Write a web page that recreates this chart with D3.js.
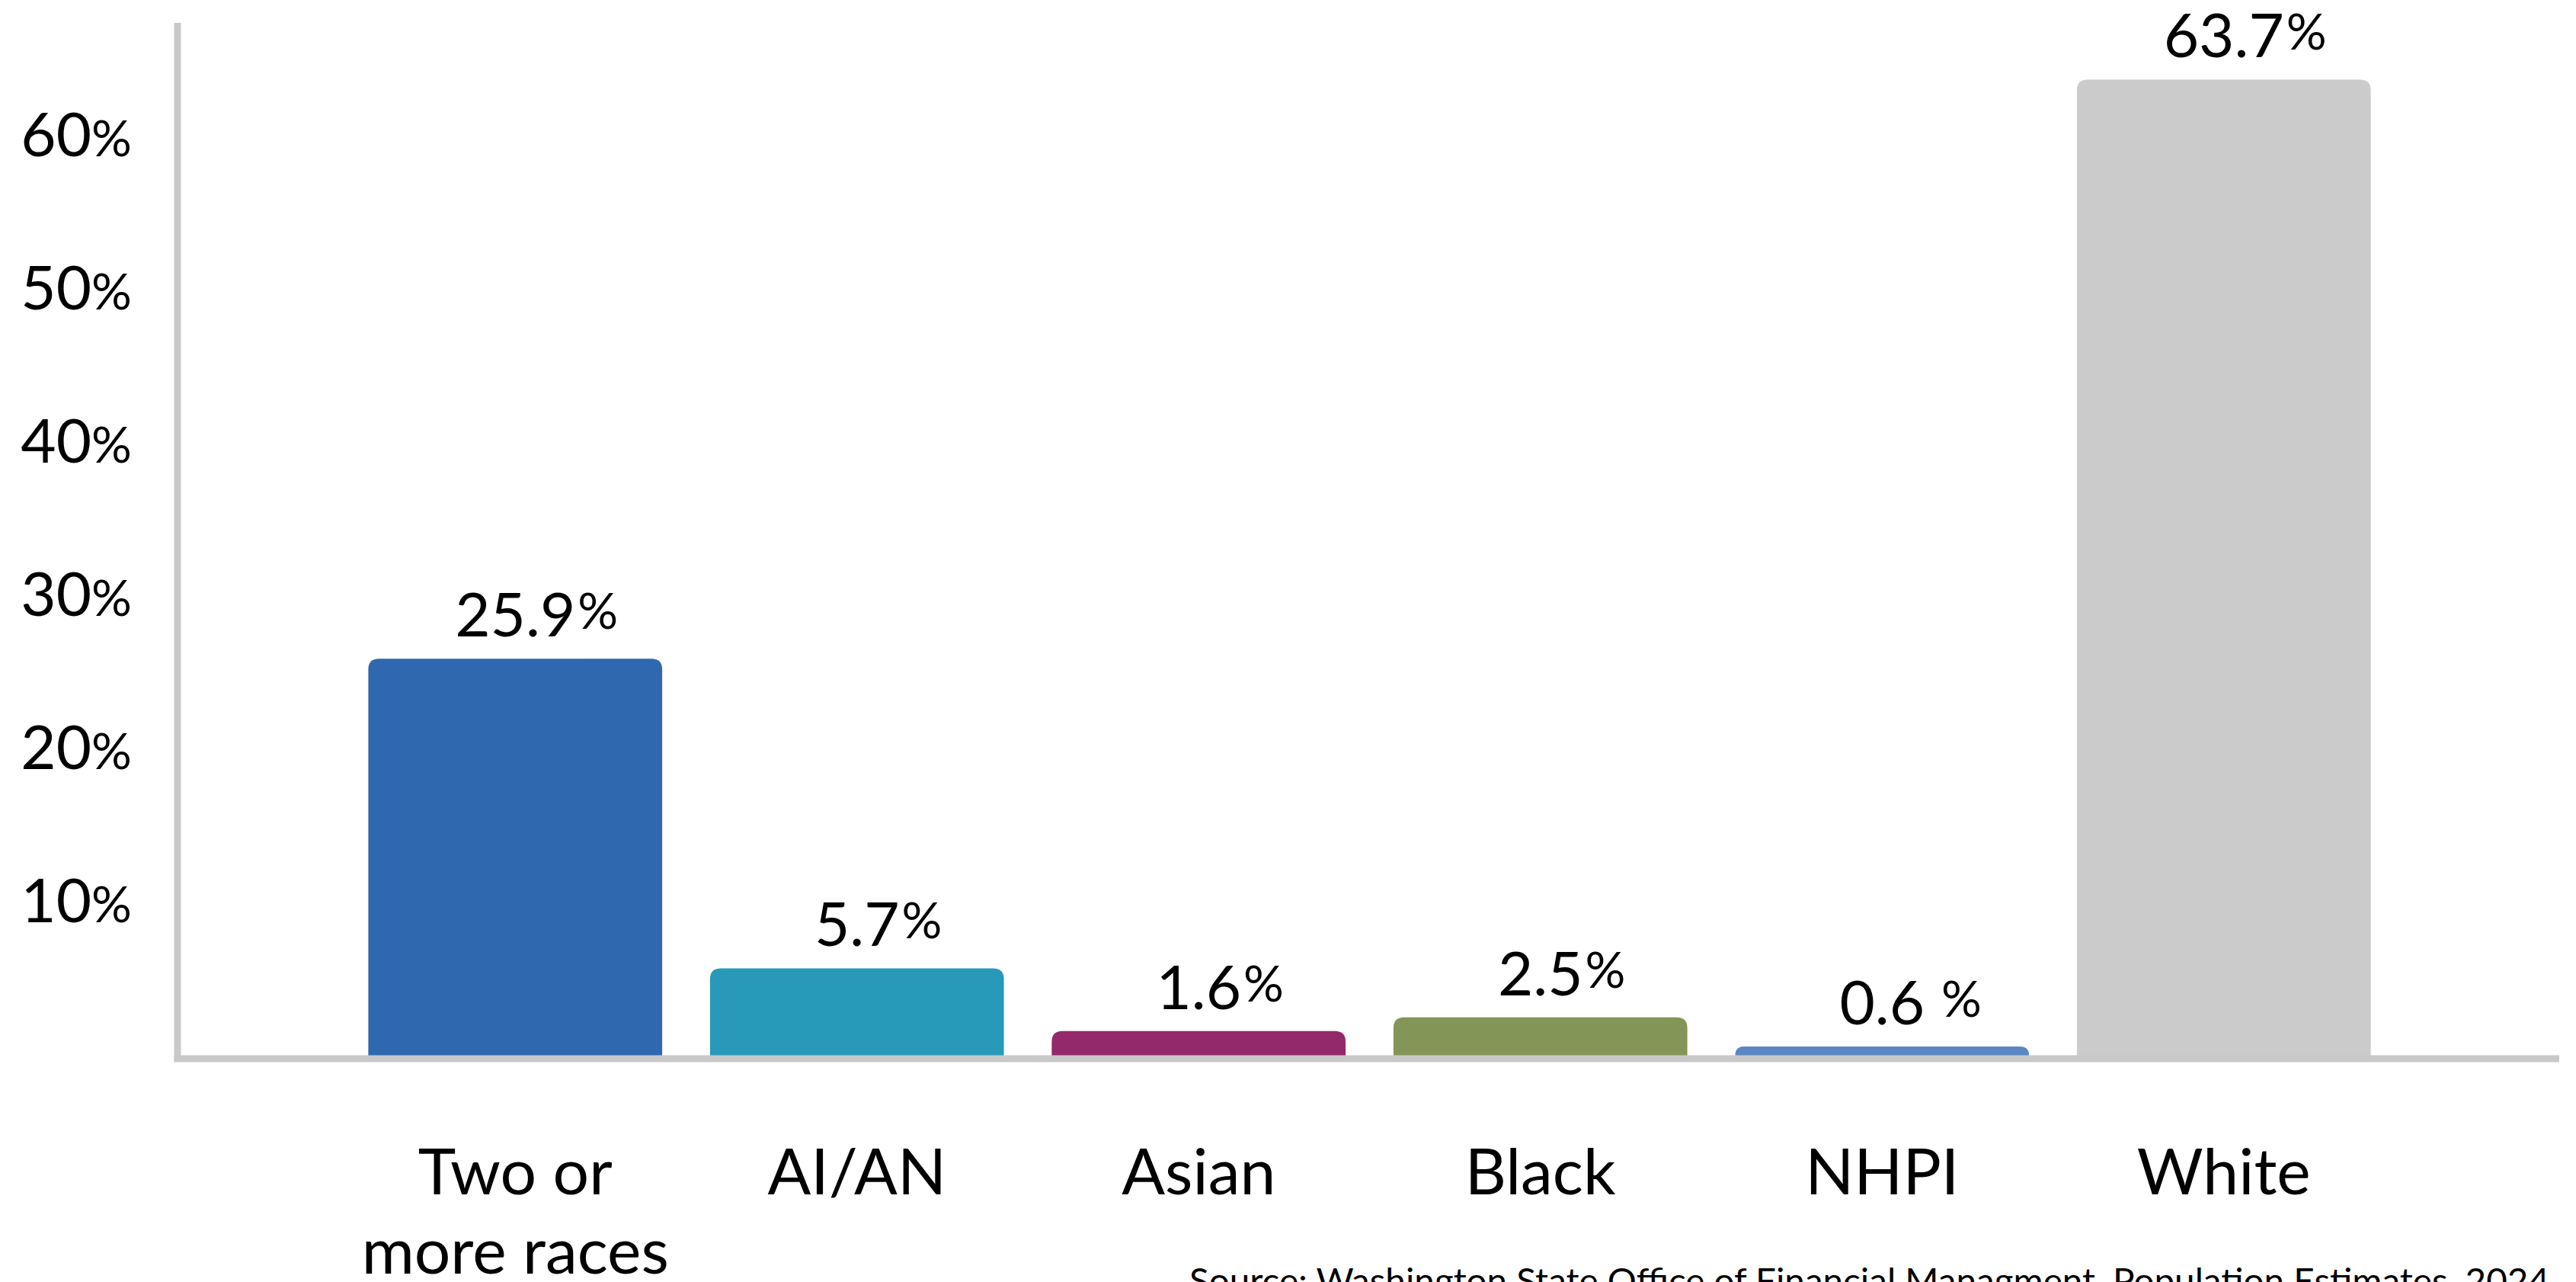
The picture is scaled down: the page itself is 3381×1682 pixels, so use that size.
<!DOCTYPE html>
<meta charset="utf-8">
<style>
body { margin: 0; background: #fff; }
text { font-family: Lato, "Open Sans", sans-serif; fill: #000; }
</style>
<body>
<script src="https://d3js.org/d3.v7.min.js"></script>
<script>

// data
var categories = ["Two or more races", "AI/AN", "Asian", "Black", "NHPI", "White"];
var categoryLines = [["Two or", "more races"], ["AI/AN"], ["Asian"], ["Black"], ["NHPI"], ["White"]];
var values = [25.9, 5.7, 1.6, 2.5, 0.6, 63.7];
var valueLabels = ["25.9%", "5.7%", "1.6%", "2.5%", "0.6 %", "63.7%"];
var colors = ["#3068af", "#2799b9", "#93296b", "#849558", "#5b87c2", "#cbcbcb"];
var yTicks = [10, 20, 30, 40, 50, 60];
var sourceText = "Source: Washington State Office of Financial Managment, Population Estimates, 2024";

var width = 3381, height = 1682;
var axisX = 233, baseY = 1385, axisColor = "#c8c8c8";

var svg = d3.select("body").append("svg")
    .attr("width", width)
    .attr("height", height);

// scales
var x = d3.scaleBand().domain(categories).range([452, 3143])
    .paddingInner(0.14).paddingOuter(0.07);
var y = d3.scaleLinear().domain([0, 67.4]).range([baseY, 30]);

// bars with rounded top corners
function barPath(x0, w, yTop, yBot) {
  var r = Math.min(14, yBot - yTop);
  return "M" + x0 + "," + yBot +
    "V" + (yTop + r) +
    "Q" + x0 + "," + yTop + " " + (x0 + r) + "," + yTop +
    "H" + (x0 + w - r) +
    "Q" + (x0 + w) + "," + yTop + " " + (x0 + w) + "," + (yTop + r) +
    "V" + yBot + "Z";
}

svg.append("g").selectAll("path")
    .data(categories)
  .enter().append("path")
    .attr("fill", function(d, i) { return colors[i]; })
    .attr("d", function(d, i) { return barPath(x(d), x.bandwidth(), y(values[i]), baseY); });

// axis lines
svg.append("line")
    .attr("x1", axisX).attr("x2", axisX)
    .attr("y1", y(67.4)).attr("y2", baseY + 8)
    .attr("stroke", axisColor).attr("stroke-width", 9);
svg.append("line")
    .attr("x1", axisX - 4.5).attr("x2", 3359)
    .attr("y1", baseY + 4).attr("y2", baseY + 4)
    .attr("stroke", axisColor).attr("stroke-width", 9);

// y axis tick labels
var yAxis = svg.append("g")
    .attr("transform", "translate(" + axisX + ",0)")
    .call(d3.axisLeft(y).tickValues(yTicks).tickSize(0).tickPadding(60).tickFormat(""));
yAxis.select(".domain").remove();
yAxis.attr("font-family", null).attr("font-size", 80);
yAxis.selectAll(".tick text").each(function(d) {
  var t = d3.select(this);
  t.append("tspan").text(d);
  t.append("tspan").attr("font-size", 66).text("%");
});

// value labels: number centred on the bar, % tacked on after it
var labels = svg.append("g").attr("font-size", 80);
categories.forEach(function(c, i) {
  var parts = valueLabels[i].split("%")[0];
  var num = parts.trim();
  var gap = parts.length > num.length ? 22 : 3;
  var cx = x(c) + x.bandwidth() / 2;
  var by = y(values[i]) - 29;
  var t = labels.append("text")
      .attr("x", cx).attr("y", by)
      .attr("text-anchor", "middle")
      .text(num);
  var w = t.node().getComputedTextLength();
  labels.append("text")
      .attr("x", cx + w / 2 + gap).attr("y", by - 10)
      .attr("font-size", 66)
      .text("%");
});

// category labels
var cats = svg.append("g").attr("font-size", 84).attr("text-anchor", "middle");
categories.forEach(function(c, i) {
  categoryLines[i].forEach(function(line, j) {
    cats.append("text")
        .attr("x", x(c) + x.bandwidth() / 2)
        .attr("y", 1567 + j * 104)
        .text(line);
  });
});

// source note (clipped by the bottom edge, as in the original)
svg.append("text")
    .attr("x", 1561).attr("y", 1697)
    .attr("font-size", 46)
    .attr("textLength", 1785)
    .attr("lengthAdjust", "spacingAndGlyphs")
    .text(sourceText);

</script>
</body>
